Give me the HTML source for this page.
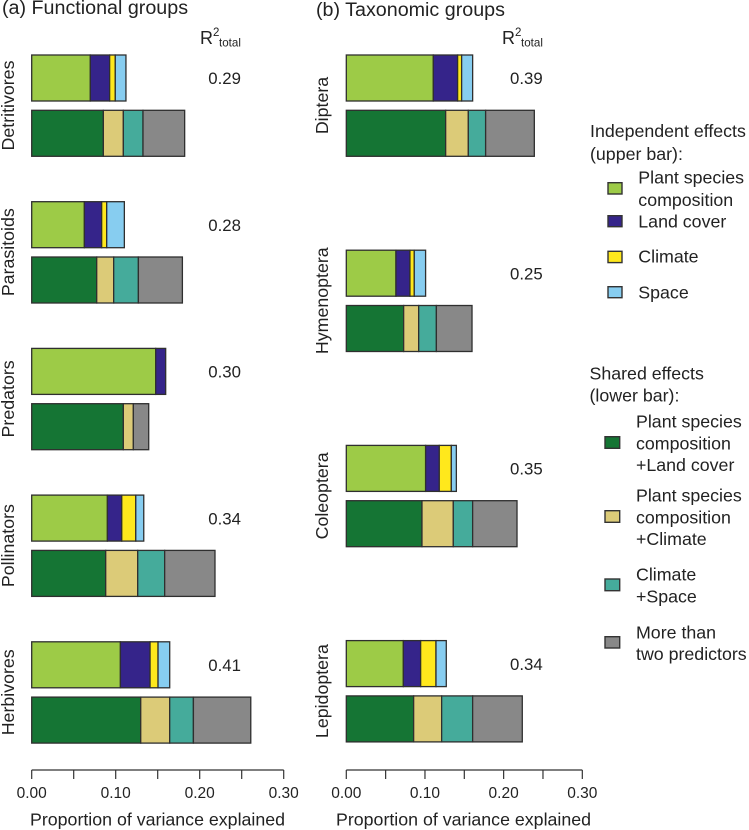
<!DOCTYPE html>
<html lang="en">
<head>
<meta charset="utf-8">
<title>Proportion of variance explained by functional and taxonomic groups</title>
<style>
html,body{margin:0;padding:0;background:#fff;width:749px;height:830px;overflow:hidden}
svg{display:block}
text{font-family:"Liberation Sans",Arial,sans-serif;fill:#222;font-size:17.8px}
.tick{font-size:15.5px}
.val{font-size:16.8px}
.ttl{font-size:19.7px}
.sw{stroke:#333;stroke-width:1.4}
</style>
</head>
<body>
<svg id="chart" xmlns="http://www.w3.org/2000/svg" width="749" height="830" viewBox="0 0 749 830">
  <text class="ttl" x="2" y="14">(a) Functional groups</text>
  <text class="ttl" x="316" y="16">(b) Taxonomic groups</text>

  <g>
    <text x="200" y="44" style="font-size:18px">R</text>
    <text x="213" y="36" style="font-size:11.5px">2</text>
    <text x="219" y="46.7" style="font-size:11.6px">total</text>
  </g>
  <g>
    <text x="502" y="44" style="font-size:18px">R</text>
    <text x="515" y="36" style="font-size:11.5px">2</text>
    <text x="521" y="46.7" style="font-size:11.6px">total</text>
  </g>

  <g id="panels"></g>

  <g>
    <text x="590" y="137">Independent effects</text>
    <text x="590" y="160">(upper bar):</text>
    <g>
      <rect class="sw" x="608" y="182.7" width="14" height="11.3" fill="#9dcb47"/>
      <text x="638.3" y="183.3">Plant species</text>
      <text x="638.3" y="206">composition</text>
    </g>
    <g>
      <rect class="sw" x="608" y="215.7" width="14" height="11" fill="#35248a"/>
      <text x="638.3" y="227.7">Land cover</text>
    </g>
    <g>
      <rect class="sw" x="608" y="251.3" width="14" height="11.3" fill="#ffe81c"/>
      <text x="638.3" y="262.7">Climate</text>
    </g>
    <g>
      <rect class="sw" x="608" y="286.7" width="14" height="11" fill="#87cdf0"/>
      <text x="638.3" y="298.3">Space</text>
    </g>
  </g>

  <g>
    <text x="589.5" y="379.3">Shared effects</text>
    <text x="589.5" y="401.7">(lower bar):</text>
    <g>
      <rect class="sw" x="605" y="436.7" width="14.7" height="11.6" fill="#157534"/>
      <text x="636" y="427.3">Plant species</text>
      <text x="636" y="449.3">composition</text>
      <text x="636" y="471">+Land cover</text>
    </g>
    <g>
      <rect class="sw" x="605" y="510.7" width="14.7" height="11.6" fill="#dccb78"/>
      <text x="636" y="501.7">Plant species</text>
      <text x="636" y="523.3">composition</text>
      <text x="636" y="545">+Climate</text>
    </g>
    <g>
      <rect class="sw" x="605" y="579" width="14.7" height="11.7" fill="#45ab9b"/>
      <text x="636" y="580.7">Climate</text>
      <text x="636" y="602.7">+Space</text>
    </g>
    <g>
      <rect class="sw" x="605" y="636.7" width="14.7" height="11.3" fill="#888888"/>
      <text x="636" y="638.3">More than</text>
      <text x="636" y="660">two predictors</text>
    </g>
  </g>
</svg>
<script>
// Data: functional groups
const functionalGroups = ['Detritivores', 'Parasitoids', 'Predators', 'Pollinators', 'Herbivores'];
const functionalR2 = ['0.29', '0.28', '0.30', '0.34', '0.41'];
const functionalUpper = [
  [0.0698, 0.0230, 0.0067, 0.0127],
  [0.0627, 0.0206, 0.0060, 0.0210],
  [0.1476, 0.0119, 0, 0],
  [0.0901, 0.0171, 0.0167, 0.0095],
  [0.1056, 0.0353, 0.0095, 0.0139]
];
const functionalLower = [
  [0.0853, 0.0238, 0.0234, 0.0496],
  [0.0774, 0.0202, 0.0294, 0.0524],
  [0.1091, 0.0119, 0, 0.0183],
  [0.0881, 0.0381, 0.0321, 0.0599],
  [0.1298, 0.0345, 0.0282, 0.0683]
];
// Data: taxonomic groups
const taxonomicGroups = ['Diptera', 'Hymenoptera', 'Coleoptera', 'Lepidoptera'];
const taxonomicR2 = ['0.39', '0.25', '0.35', '0.34'];
const taxonomicUpper = [
  [0.1106, 0.0309, 0.0051, 0.0140],
  [0.0631, 0.0178, 0.0055, 0.0144],
  [0.1008, 0.0174, 0.0153, 0.0064],
  [0.0725, 0.0220, 0.0195, 0.0131]
];
const taxonomicLower = [
  [0.1263, 0.0288, 0.0220, 0.0619],
  [0.0729, 0.0191, 0.0225, 0.0453],
  [0.0962, 0.0398, 0.0246, 0.0564],
  [0.0856, 0.0356, 0.0394, 0.0631]
];
const tickValues = [0, 0.05, 0.10, 0.15, 0.20, 0.25, 0.30];
const tickLabels = ['0.00', '', '0.10', '', '0.20', '', '0.30'];
const upperColors = ['#9dcb47', '#35248a', '#ffe81c', '#87cdf0'];
const lowerColors = ['#157534', '#dccb78', '#45ab9b', '#888888'];
const axisTitle = 'Proportion of variance explained';

const NS = 'http://www.w3.org/2000/svg';
const root = document.getElementById('panels');

function make(tag, attrs, parent) {
  const el = document.createElementNS(NS, tag);
  Object.keys(attrs).forEach(function (k) { el.setAttribute(k, attrs[k]); });
  parent.appendChild(el);
  return el;
}

function drawBar(parent, values, colors, xScale, y, h, barName) {
  const bar = make('g', {}, parent);
  
  
  let cum = 0;
  values.forEach(function (v, i) {
    if (v <= 0) return;
    const seg = make('rect', {
      x: xScale(cum), y: y, width: xScale(cum + v) - xScale(cum), height: h,
      fill: colors[i], stroke: '#2f2f2f', 'stroke-width': 1.3
    }, bar);
    
    
    cum += v;
  });
}

function drawPanel(cfg) {
  const panel = make('g', {}, root);
  
  
  const xScale = function (v) { return cfg.x0 + v * cfg.pxPerUnit; };
  const bandY = function (i) { return cfg.top + i * cfg.step; };

  cfg.groups.forEach(function (g, i) {
    const y = bandY(i);
    const grp = make('g', {}, panel);
    
    
    drawBar(grp, cfg.upper[i], upperColors, xScale, y, 46, 'independent-effects-bar');
    drawBar(grp, cfg.lower[i], lowerColors, xScale, y + 55.3, 46, 'shared-effects-bar');

    const cy = y + 50.5;
    const lab = make('text', {
      x: cfg.labelX, y: cy, 'text-anchor': 'middle',
      transform: 'rotate(-90 ' + cfg.labelX + ' ' + cy + ')'
    }, grp);
    lab.textContent = g;
    
    

    const val = make('text', { x: cfg.valueX, y: y + 29.2, class: 'val' }, grp);
    val.textContent = cfg.r2[i];
    
    
  });

  const axis = make('g', {}, panel);
  
  
  const axisLine = make('line', {
    x1: xScale(tickValues[0]), x2: xScale(tickValues[tickValues.length - 1]),
    y1: 770, y2: 770, stroke: '#333', 'stroke-width': 1.2
  }, axis);
  
  
  tickValues.forEach(function (t, i) {
    const tick = make('line', {
      x1: xScale(t), x2: xScale(t), y1: 770, y2: 779, stroke: '#333', 'stroke-width': 1.2
    }, axis);
    
    
    if (tickLabels[i]) {
      const tl = make('text', { x: xScale(t), y: 798, 'text-anchor': 'middle', class: 'tick' }, axis);
      tl.textContent = tickLabels[i];
      
      
    }
  });
  const title = make('text', { x: cfg.titleX, y: 825.5 }, axis);
  title.textContent = axisTitle;
  
  
}

drawPanel({
  name: 'functional-groups-panel', groups: functionalGroups, r2: functionalR2,
  upper: functionalUpper, lower: functionalLower,
  x0: 31.7, pxPerUnit: 840, top: 55, step: 146.7,
  labelX: 14, valueX: 208.3, titleX: 30
});
drawPanel({
  name: 'taxonomic-groups-panel', groups: taxonomicGroups, r2: taxonomicR2,
  upper: taxonomicUpper, lower: taxonomicLower,
  x0: 346.3, pxPerUnit: 786.7, top: 55, step: 195.2,
  labelX: 328, valueX: 510, titleX: 336
});
</script>
</body>
</html>
